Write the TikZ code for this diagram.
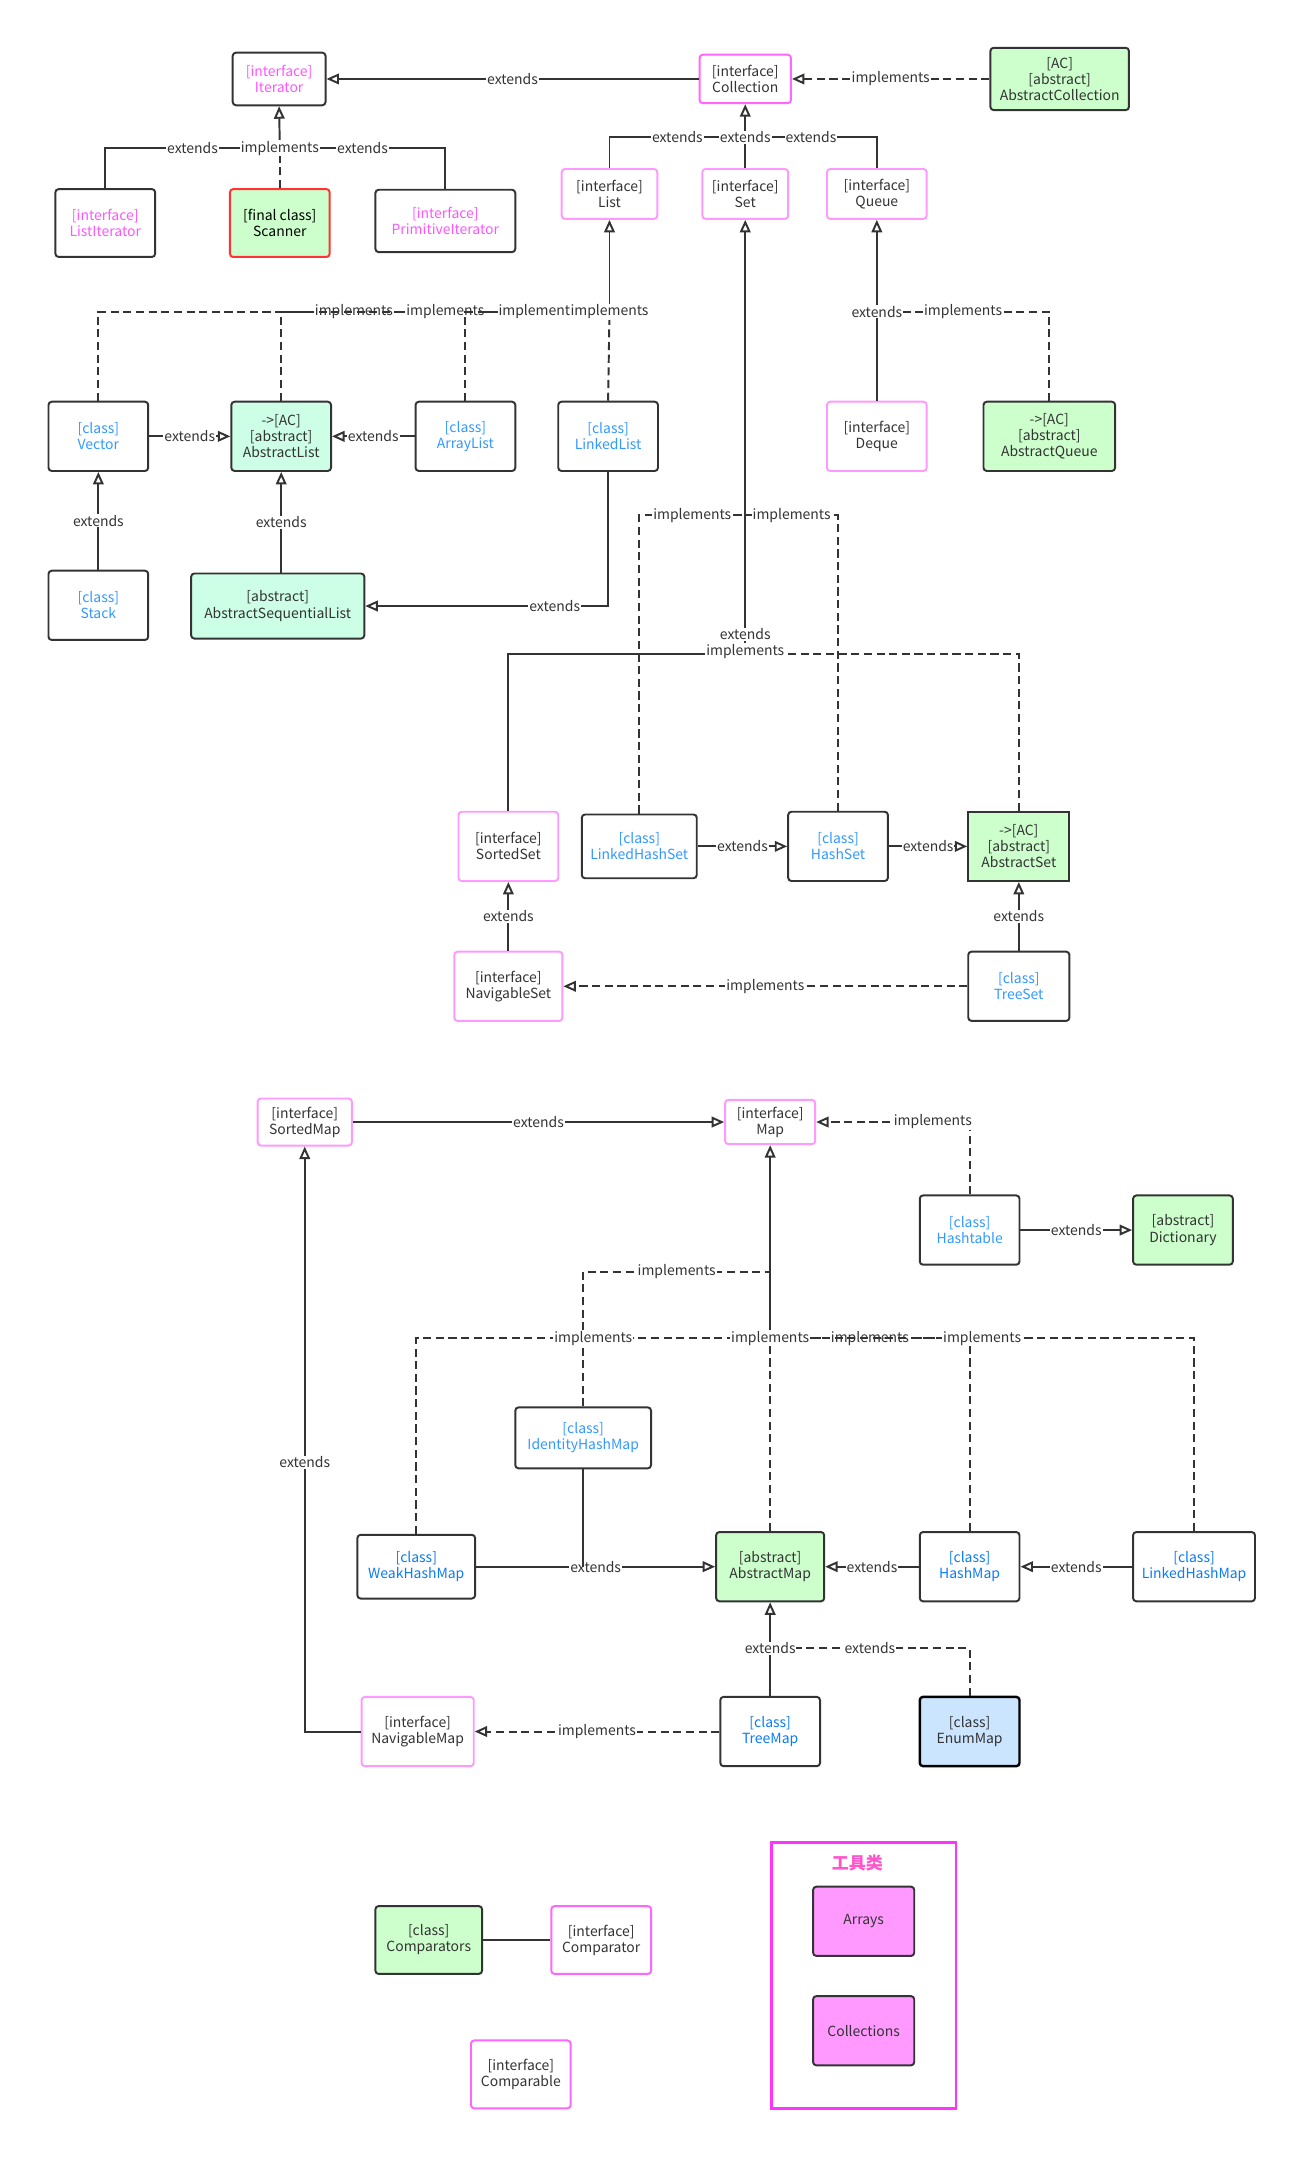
\documentclass[tikz,border=0pt]{standalone}
\usepackage{fontspec}
\setmainfont{Noto Sans CJK SC}
\usetikzlibrary{arrows.meta}
\definecolor{ln}{HTML}{333333}
\definecolor{pinktxt}{HTML}{FF55FF}
\definecolor{pinkline}{HTML}{FF99FF}
\definecolor{pinkstrong}{HTML}{FF66FF}
\definecolor{bluetxt}{HTML}{3399FF}
\definecolor{bluedeep}{HTML}{0A7CF5}
\definecolor{greenfill}{HTML}{CCFFCC}
\definecolor{mintfill}{HTML}{CCFFE6}
\definecolor{enumfill}{HTML}{CCE5FF}
\definecolor{scanred}{HTML}{FF3333}
\definecolor{toolline}{HTML}{FF33FF}
\definecolor{toolfill}{HTML}{FF99FF}
\definecolor{tooltitle}{HTML}{FF55CC}
\newcommand\nodefont{\fontsize{8.6}{9.9}\selectfont}
\tikzset{
  box/.style={draw=ln, line width=1.2pt, rounded corners=2pt, align=center,
    inner sep=1pt, text=ln, font=\nodefont},
  ifbox/.style={box, draw=pinkline},
  clsbox/.style={box, text=bluetxt},
  sz/.style 2 args={minimum width=#1*0.03cm, minimum height=#2*0.03cm},
  lbl/.style={fill=white, inner sep=0.6pt, text=ln, font=\nodefont},
  solidln/.style={draw=ln, line width=1.2pt},
  dashln/.style={solidln, dash pattern=on 5pt off 2.8pt},
  ext/.style={solidln, -{Triangle[open,length=2.7mm,width=2.3mm]}},
  impl/.style={ext, dash pattern=on 5pt off 2.8pt},
}
\begin{document}
\begin{tikzpicture}[x=0.03cm,y=-0.03cm]
   \fill[white] (0,0) rectangle (950,1568);

   % iterator and collection
   \node[box, text=pinktxt, sz={67}{38}] (iterator) at (201.5,57) {[interface]\\Iterator};
   \node[ifbox, draw=pinkstrong, sz={66}{35}] (collection) at (538,57) {[interface]\\Collection};
   \node[box, fill=greenfill, sz={100}{45}] (abscoll) at (765,57) {[AC]\\{}[abstract]\\AbstractCollection};
   \node[box, text=pinktxt, sz={72}{49}] (listit) at (76,161) {[interface]\\ListIterator};
   \node[box, draw=scanred, fill=greenfill, text=black, sz={72}{49}] (scanner) at (202,161) {[final class]\\Scanner};
   \node[box, text=pinktxt, sz={101}{45}] (primit) at (321.5,159.5) {[interface]\\PrimitiveIterator};
   \node[ifbox, sz={69}{36}] (list) at (440,140) {[interface]\\List};
   \node[ifbox, sz={62}{36}] (set) at (538,140) {[interface]\\Set};
   \node[ifbox, sz={72}{36}] (queue) at (633,140) {[interface]\\Queue};

   \coordinate (itbus) at (202,107);
   \coordinate (colbus) at (538,99);
   \draw[ext] (collection.west) -- node[lbl]{extends} (iterator.east);
   \draw[impl] (abscoll.west) -- node[lbl]{implements} (collection.east);
   \draw[solidln] (listit.north) |- node[lbl,pos=0.75]{extends} (itbus);
   \draw[solidln] (primit.north) |- node[lbl,pos=0.75]{extends} (itbus);
   \draw[dashln] (scanner.north) -- (itbus);
   \draw[ext] (itbus) node[lbl]{implements} -- (iterator.south);
   \draw[solidln] (list.north) |- node[lbl,pos=0.75]{extends} (colbus);
   \draw[solidln] (queue.north) |- node[lbl,pos=0.75]{extends} (colbus);
   \draw[solidln] (set.north) -- (colbus);
   \draw[ext] (colbus) node[lbl]{extends} -- (collection.south);

   % list and queue
   \node[clsbox, sz={72}{50}] (vector) at (71,315) {[class]\\Vector};
   \node[box, fill=mintfill, sz={72}{50}] (alist) at (203,315) {->[AC]\\{}[abstract]\\AbstractList};
   \node[clsbox, sz={72}{50}] (arraylist) at (336,315) {[class]\\ArrayList};
   \node[clsbox, sz={72}{50}] (linkedlist) at (439,315) {[class]\\LinkedList};
   \node[ifbox, sz={72}{50}] (deque) at (633,315) {[interface]\\Deque};
   \node[box, fill=greenfill, sz={95}{50}] (absqueue) at (757.5,315) {->[AC]\\{}[abstract]\\AbstractQueue};
   \node[clsbox, sz={72}{50}] (stack) at (71,437) {[class]\\Stack};
   \node[box, fill=mintfill, sz={125}{47}] (aseqlist) at (200.5,437.5) {[abstract]\\AbstractSequentialList};

   \coordinate (listbus) at (440,225);
   \coordinate (queuebus) at (633,225);
   \draw[dashln] (vector.north) |- node[lbl,pos=0.75]{implements} (listbus);
   \draw[dashln] (alist.north) |- node[lbl,pos=0.75]{implements} (listbus);
   \draw[dashln] (arraylist.north) |- node[lbl,pos=0.75]{implements} (listbus);
   \draw[dashln] (linkedlist.north) -- (listbus);
   \draw[ext] (listbus) node[lbl]{implements} -- (list.south);
   \draw[solidln] (deque.north) -- (queuebus);
   \draw[dashln] (absqueue.north) |- node[lbl,pos=0.75]{implements} (queuebus);
   \draw[ext] (queuebus) node[lbl]{extends} -- (queue.south);
   \draw[ext] (vector.east) -- node[lbl]{extends} (alist.west);
   \draw[ext] (arraylist.west) -- node[lbl]{extends} (alist.east);
   \draw[ext] (stack.north) -- node[lbl]{extends} (vector.south);
   \draw[ext] (aseqlist.north -| alist.south) -- node[lbl]{extends} (alist.south);
   \draw[ext] (linkedlist.south) |- node[lbl,pos=0.61]{extends} (aseqlist.east);

   % set
   \node[ifbox, sz={72}{50}] (sortedset) at (367,611) {[interface]\\SortedSet};
   \node[clsbox, sz={83}{46}] (lhset) at (461.5,611) {[class]\\LinkedHashSet};
   \node[clsbox, sz={72}{50}] (hashset) at (605,611) {[class]\\HashSet};
   \node[box, fill=greenfill, rounded corners=0pt, sz={73}{50}] (absset) at (735.5,611) {->[AC]\\{}[abstract]\\AbstractSet};
   \node[ifbox, sz={78}{50}] (navset) at (367,712) {[interface]\\NavigableSet};
   \node[clsbox, sz={73}{50}] (treeset) at (735.5,712) {[class]\\TreeSet};

   \coordinate (setbus) at (538,472);
   \coordinate (sethashbus) at (538,372);
   \draw[solidln] (sortedset.north) |- (setbus);
   \draw[dashln] (absset.north) |- (setbus);
   \draw[dashln] (lhset.north) |- node[lbl,pos=0.75]{implements} (sethashbus);
   \draw[dashln] (hashset.north) |- node[lbl,pos=0.75]{implements} (sethashbus);
   \draw[ext] (setbus) -- (set.south);
   \node[lbl] (setext) at (538,458) {extends};
   \node[lbl] (setimpl) at (538,470) {implements};
   \draw[ext] (lhset.east) -- node[lbl]{extends} (hashset.west);
   \draw[ext] (hashset.east) -- node[lbl]{extends} (absset.west);
   \draw[ext] (navset.north) -- node[lbl]{extends} (sortedset.south);
   \draw[ext] (treeset.north) -- node[lbl]{extends} (absset.south);
   \draw[impl] (treeset.west) -- node[lbl]{implements} (navset.east);

   % map
   \node[ifbox, sz={68}{34}] (sortedmap) at (220,810) {[interface]\\SortedMap};
   \node[ifbox, sz={65}{32}] (map) at (556,810) {[interface]\\Map};
   \node[clsbox, sz={72}{50}] (hashtable) at (700,888) {[class]\\Hashtable};
   \node[box, fill=greenfill, sz={72}{50}] (dictionary) at (854,888) {[abstract]\\Dictionary};
   \node[clsbox, sz={98}{44}] (ihmap) at (421,1038) {[class]\\IdentityHashMap};
   \node[clsbox, text=bluedeep, sz={85}{46}] (weakmap) at (300.5,1131) {[class]\\WeakHashMap};
   \node[box, fill=greenfill, sz={78}{50}] (absmap) at (556,1131) {[abstract]\\AbstractMap};
   \node[clsbox, text=bluedeep, sz={72}{50}] (hashmap) at (700,1131) {[class]\\HashMap};
   \node[clsbox, text=bluedeep, sz={88}{50}] (lhmap) at (862,1131) {[class]\\LinkedHashMap};
   \node[clsbox, text=bluedeep, sz={72}{50}] (treemap) at (556,1250) {[class]\\TreeMap};
   \node[box, draw=black, line width=1.5pt, fill=enumfill, sz={72}{50}] (enummap) at (700,1250) {[class]\\EnumMap};
   \node[ifbox, sz={81}{50}] (navmap) at (301.5,1250) {[interface]\\NavigableMap};

   \coordinate (identbus) at (556,918);
   \coordinate (mapbus) at (556,966);
   \coordinate (treebus) at (556,1190);
   \draw[ext] (sortedmap.east) -- node[lbl]{extends} (map.west);
   \draw[impl] (hashtable.north) |- node[lbl,pos=0.62]{implements} (map.east);
   \draw[ext] (hashtable.east) -- node[lbl]{extends} (dictionary.west);
   \draw[dashln] (ihmap.north) |- node[lbl,pos=0.75]{implements} (identbus);
   \draw[dashln] (weakmap.north) |- node[lbl,pos=0.75]{implements} (mapbus);
   \draw[dashln] (absmap.north) -- (mapbus);
   \draw[dashln] (hashmap.north) |- node[lbl,pos=0.75]{implements} (mapbus);
   \draw[dashln] (lhmap.north) |- node[lbl,pos=0.75]{implements} (mapbus);
   \draw[ext] (mapbus) node[lbl]{implements} -- (map.south);
   \draw[ext] (weakmap.east) -- node[lbl]{extends} (absmap.west);
   \draw[solidln] (ihmap.south) -- (ihmap.south |- weakmap.east);
   \draw[ext] (hashmap.west) -- node[lbl]{extends} (absmap.east);
   \draw[ext] (lhmap.west) -- node[lbl]{extends} (hashmap.east);
   \draw[solidln] (treemap.north) -- (treebus);
   \draw[dashln] (enummap.north) |- node[lbl,pos=0.75]{extends} (treebus);
   \draw[ext] (treebus) node[lbl]{extends} -- (absmap.south);
   \draw[impl] (treemap.west) -- node[lbl]{implements} (navmap.east);
   \draw[ext] (navmap.west) -| node[lbl,pos=0.73]{extends} (sortedmap.south);

   % comparators and tools
   \node[box, fill=greenfill, sz={77}{49}] (comparators) at (309.5,1400.5) {[class]\\Comparators};
   \node[ifbox, draw=pinkstrong, sz={72}{49}] (comparator) at (434,1400.5) {[interface]\\Comparator};
   \node[ifbox, draw=pinkstrong, sz={72}{49}] (comparable) at (376,1497.5) {[interface]\\Comparable};
   \draw[solidln] (comparators) -- (comparator);

   \node[draw=toolline, line width=1.5pt, sz={133}{192}] (tools) at (623.5,1426) {};
   \node[text=tooltitle, font=\fontsize{10.5}{12}\selectfont\bfseries] (toolstitle) at (619,1345) {工具类};
   \node[box, fill=toolfill, sz={73}{50}] (arrays) at (623.5,1387) {Arrays};
   \node[box, fill=toolfill, sz={73}{50}] (collections) at (623.5,1466) {Collections};
\end{tikzpicture}
\end{document}
